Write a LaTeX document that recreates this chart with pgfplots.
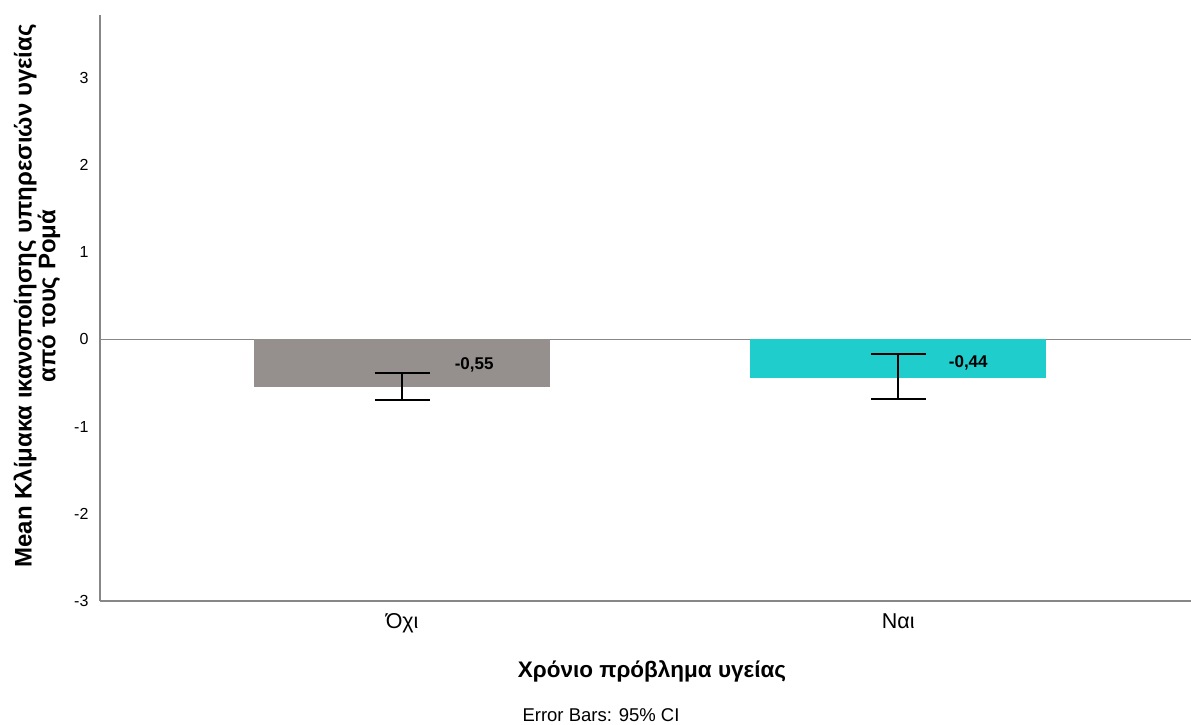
\documentclass[border=0pt]{standalone}
\usepackage{fontspec}
\setmainfont{Liberation Sans}
\usepackage{pgfplots}
\pgfplotsset{compat=1.18}
\definecolor{bargray}{RGB}{149,144,141}
\definecolor{barcyan}{RGB}{30,205,204}
\definecolor{axgray}{RGB}{135,135,135}
\begin{document}
\begin{tikzpicture}[x=1pt,y=1pt]
\path[use as bounding box] (-100,-124) rectangle (1091,601);
\begin{axis}[
  scale only axis, width=1091pt, height=586pt,
  xmin=-0.609, xmax=1.59, ymin=-3, ymax=3.72,
  axis lines=left,
  axis line style={-, draw=axgray, line width=1.2pt},
  ytick={-3,-2,-1,0,1,2,3},
  xtick={0,1}, xticklabels={Όχι,Ναι},
  major tick length=0pt,
  /pgf/number format/assume math mode=true,
  yticklabel style={font=\fontsize{16}{18}\selectfont, anchor=east, xshift=-8pt},
  xticklabel style={font=\fontsize{21.5}{23}\selectfont, anchor=north, yshift=-9pt},
  extra y ticks={0}, extra y tick labels={},
  extra y tick style={grid=major, major grid style={draw=axgray, line width=1.2pt}},
  ybar, bar width=296pt, bar shift=0pt,
  clip=false,
]
\addplot[fill=bargray, draw=none,
  error bars/.cd, y dir=both, y explicit,
  error bar style={black, line width=2pt},
  error mark options={rotate=90, black, line width=2pt, mark size=27.5pt}]
  coordinates {(0,-0.55) += (0,0.16) -= (0,0.14)};
\addplot[fill=barcyan, draw=none,
  error bars/.cd, y dir=both, y explicit,
  error bar style={black, line width=2pt},
  error mark options={rotate=90, black, line width=2pt, mark size=27.5pt}]
  coordinates {(1,-0.44) += (0,0.27) -= (0,0.24)};
\node[font=\bfseries\fontsize{17}{19}\selectfont, xshift=72pt, yshift=-2pt] at (axis cs:0,-0.275) {-0,55};
\node[font=\bfseries\fontsize{17}{19}\selectfont, xshift=70pt, yshift=-2pt] at (axis cs:1,-0.25) {-0,44};
\end{axis}
\node[rotate=90, align=center, font=\bfseries\fontsize{24}{21}\selectfont] at (-63,305)
  {Mean Κλίμακα ικανοποίησης υπηρεσιών υγείας\\από τους Ρομά};
\node[font=\bfseries\fontsize{22.5}{24}\selectfont] at (552,-70) {Χρόνιο πρόβλημα υγείας};
\node[font=\fontsize{18.5}{20}\selectfont] at (501,-114) {Error Bars: 95\% CI};
\end{tikzpicture}
\end{document}
